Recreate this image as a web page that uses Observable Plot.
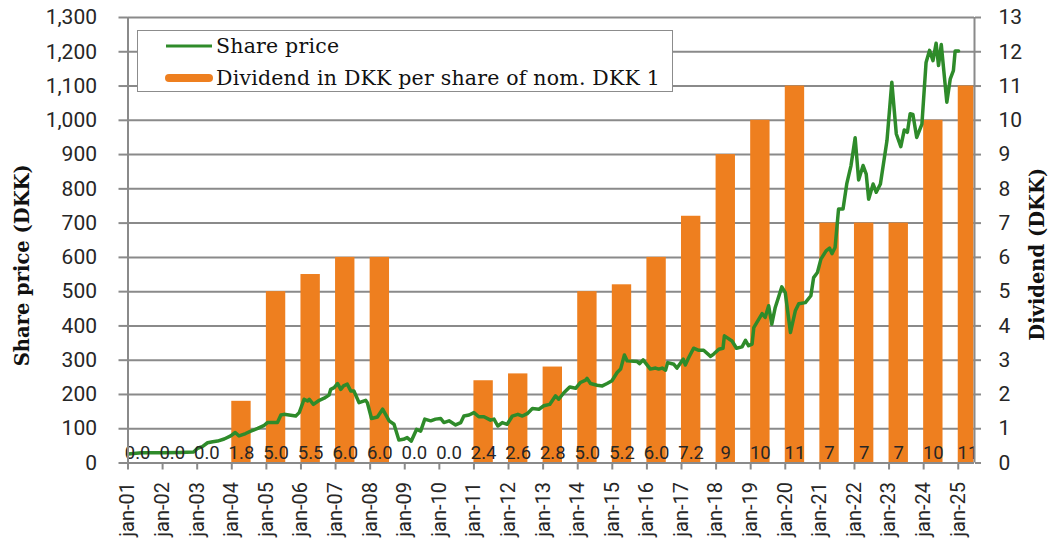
<!DOCTYPE html>
<html>
<head>
<meta charset="utf-8">
<script src="https://cdn.jsdelivr.net/npm/d3@7"></script>
<script src="https://cdn.jsdelivr.net/npm/@observablehq/plot@0.6"></script>
<style>
  body { margin: 0; background: #fff; }
  #wrap { position: relative; width: 1056px; height: 547px; }
  #legend {
    position: absolute; left: 137px; top: 30px; width: 534px; height: 60px;
    border: 1.5px solid #8c8c8c; background: #fff;
    font-family: "DejaVu Serif", serif; font-size: 20.5px; letter-spacing: 0.2px; color: #111;
  }
  #legend .item { position: absolute; left: 27px; display: flex; align-items: center; white-space: nowrap; }
  #legend svg { margin-right: 3px; }
</style>
</head>
<body>
<div id="wrap"></div>
<script>
// ---- data ----
const years = [2001,2002,2003,2004,2005,2006,2007,2008,2009,2010,2011,2012,2013,2014,2015,2016,2017,2018,2019,2020,2021,2022,2023,2024,2025];
const dividends = [0,0,0,1.8,5.0,5.5,6.0,6.0,0,0,2.4,2.6,2.8,5.0,5.2,6.0,7.2,9,10,11,7,7,7,10,11];
const dividendLabels = ["0.0","0.0","0.0","1.8","5.0","5.5","6.0","6.0","0.0","0.0","2.4","2.6","2.8","5.0","5.2","6.0","7.2","9","10","11","7","7","7","10","11"];
const priceTimes = [2001.00,2001.40,2002.00,2002.50,2002.90,2003.01,2003.15,2003.30,2003.45,2003.59,2003.78,2003.97,2004.10,2004.21,2004.40,2004.55,2004.75,2004.94,2005.03,2005.32,2005.42,2005.51,2005.85,2005.95,2006.09,2006.19,2006.24,2006.36,2006.53,2006.67,2006.81,2006.86,2006.96,2007.06,2007.15,2007.23,2007.34,2007.44,2007.53,2007.68,2007.87,2007.92,2008.04,2008.21,2008.36,2008.55,2008.69,2008.83,2008.96,2009.07,2009.19,2009.34,2009.46,2009.58,2009.75,2009.89,2010.04,2010.13,2010.28,2010.47,2010.62,2010.71,2010.86,2011.00,2011.14,2011.29,2011.48,2011.58,2011.69,2011.82,2011.96,2012.11,2012.27,2012.40,2012.54,2012.69,2012.88,2013.02,2013.19,2013.36,2013.45,2013.60,2013.77,2013.94,2014.08,2014.23,2014.27,2014.37,2014.56,2014.71,2014.85,2014.99,2015.14,2015.24,2015.35,2015.43,2015.72,2015.79,2015.89,2016.10,2016.25,2016.34,2016.44,2016.54,2016.60,2016.78,2016.87,2017.05,2017.11,2017.21,2017.35,2017.50,2017.64,2017.84,2017.93,2018.08,2018.20,2018.24,2018.46,2018.59,2018.75,2018.85,2018.94,2019.04,2019.09,2019.33,2019.42,2019.52,2019.61,2019.71,2019.90,2020.00,2020.15,2020.29,2020.39,2020.58,2020.74,2020.82,2020.93,2021.03,2021.18,2021.28,2021.35,2021.44,2021.54,2021.67,2021.78,2021.90,2022.02,2022.12,2022.25,2022.34,2022.41,2022.54,2022.63,2022.75,2022.94,2023.08,2023.21,2023.34,2023.44,2023.53,2023.61,2023.69,2023.80,2023.95,2024.07,2024.17,2024.27,2024.36,2024.43,2024.51,2024.67,2024.77,2024.86,2024.91,2025.01];
const priceValues = [26,30,30,31,32,43,48,59,62,64,70,79,89,79,86,93,101,110,118,118,140,142,137,147,186,181,186,171,183,189,198,215,220,232,215,225,230,210,210,176,183,176,130,134,157,123,113,67,69,74,64,98,93,128,123,128,130,118,123,111,118,137,140,147,135,135,125,128,108,118,113,137,142,137,144,159,157,167,171,196,186,205,222,218,235,242,247,232,227,225,232,240,264,274,315,298,296,290,301,274,277,274,277,271,293,288,277,303,286,308,335,329,329,311,318,332,335,371,356,335,339,358,342,347,395,436,425,459,405,454,514,497,381,444,465,468,488,541,556,595,619,627,611,629,741,741,816,868,949,826,868,843,770,814,790,814,941,1111,960,923,972,965,1019,1017,950,989,1169,1204,1174,1225,1160,1221,1053,1121,1145,1202,1202];
const priceTicks = [0,100,200,300,400,500,600,700,800,900,1000,1100,1200,1300];
const dividendTicks = [0,1,2,3,4,5,6,7,8,9,10,11,12,13];

// ---- derived tables ----
const divData = years.map((y, i) => ({year: y, div: dividends[i], label: dividendLabels[i]}));
const priceData = priceTimes.map((t, i) => ({t, price: priceValues[i]}));
const barW = 0.56;
const xMin = 2001, xMax = 2025.47;
const ratio = 100; // dividend axis 0..13 aligned with price axis 0..1300

const grey = "#8a8a8a";
const chart = Plot.plot({
  width: 1056, height: 547,
  marginTop: 17, marginBottom: 84.5, marginLeft: 127.5, marginRight: 82,
  x: {type: "linear", domain: [xMin, xMax]},
  y: {domain: [0, 1300]},
  style: {fontFamily: "Roboto, sans-serif", fontSize: "20px", color: "#262626", background: "#fff"},
  marks: [
    Plot.ruleY(priceTicks.slice(1), {stroke: grey, strokeWidth: 2}),
    Plot.rectY(divData, {x1: "year", x2: d => Math.min(d.year + barW, xMax - 0.015), y: d => d.div * ratio, fill: "#EE7F1F"}),
    Plot.line(priceData, {x: "t", y: "price", stroke: "#2E8B2A", strokeWidth: 3.5, strokeLinejoin: "round"}),
    Plot.text(divData, {x: d => d.year + barW / 2, y: 0, text: "label", dy: -10, fontSize: 18.5, fill: "#262626"}),
    Plot.ruleX([xMin, xMax], {stroke: grey, strokeWidth: 2}),
    Plot.ruleY([0], {stroke: grey, strokeWidth: 2}),
    Plot.axisY(priceTicks, {anchor: "left", tickSize: 9, tickPadding: 22, tickFormat: d3.format(","), label: null, stroke: grey, strokeWidth: 2, fontSize: 21}),
    Plot.axisY(priceTicks, {anchor: "right", tickSize: 6, tickPadding: 18, tickFormat: d => String(d / ratio), label: null, stroke: grey, strokeWidth: 2, fontSize: 21}),
    Plot.axisX(years, {anchor: "bottom", tickSize: 7, tickPadding: 12, tickRotate: -90, tickFormat: d => "jan-" + String(d % 100).padStart(2, "0"), label: null, stroke: grey, strokeWidth: 2, fontSize: 20}),
    Plot.text(["Share price (DKK)"], {frameAnchor: "left", textAnchor: "middle", rotate: -90, dx: -105, dy: 25, fontFamily: "DejaVu Serif, serif", fontWeight: "bold", fontSize: 19.5, fill: "#111"}),
    Plot.text(["Dividend (DKK)"], {frameAnchor: "right", textAnchor: "middle", rotate: -90, dx: 63, dy: 14, fontFamily: "DejaVu Serif, serif", fontWeight: "bold", fontSize: 19.5, fill: "#111"})
  ]
});
const wrap = document.getElementById("wrap");
wrap.appendChild(chart);

// legend
const legend = document.createElement("div");
legend.id = "legend";
legend.innerHTML = `
  <div class="item" style="top:3px"><svg width="48" height="20"><line x1="1" y1="10" x2="47" y2="10" stroke="#2E8B2A" stroke-width="3"/></svg><span>Share price</span></div>
  <div class="item" style="top:35px"><svg width="48" height="20"><line x1="4" y1="10" x2="44" y2="10" stroke="#EE7F1F" stroke-width="8" stroke-linecap="round"/></svg><span>Dividend in DKK per share of nom. DKK 1</span></div>`;
wrap.appendChild(legend);
</script>
</body>
</html>
